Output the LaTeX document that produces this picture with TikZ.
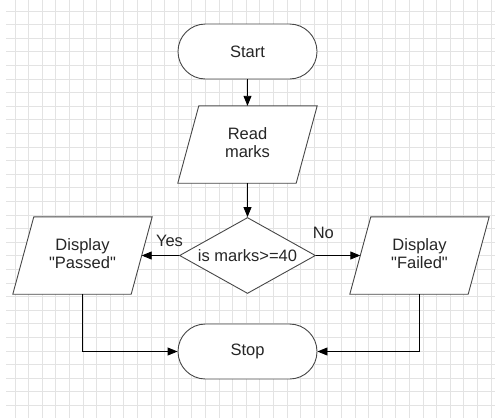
\documentclass[tikz,border=0pt]{standalone}
\usepackage{fontspec}
\setmainfont{Liberation Sans}[Ligatures=TeXOff]
\usetikzlibrary{arrows.meta,shapes.geometric}
\pgfdeclarelayer{gridlayer}
\pgfdeclarelayer{shapelayer}
\pgfsetlayers{gridlayer,shapelayer,main}
\begin{document}
\begin{tikzpicture}[x=1pt,y=-1pt,
  every node/.style={font=\fontsize{16.5}{17.6}\selectfont, text=black!85},
  shapeline/.style={draw=black!72, line width=0.9pt, fill=white},
  term/.style={shapeline, rectangle, rounded corners=27.5pt, minimum width=139pt, minimum height=55pt, inner sep=0pt},
  decision/.style={shapeline, diamond, aspect=1.79, minimum width=136pt, minimum height=76pt, inner sep=0pt},
  paratext/.style={rectangle, minimum width=118pt, minimum height=77pt, inner sep=0pt, align=center, text height=28pt, text depth=2.5pt},
  flow/.style={draw=black, line width=0.9pt, -{Triangle[length=10pt,width=8pt]}},
  lbl/.style={inner sep=0pt, anchor=base},
  gridline/.style={draw=black!11, line width=0.8pt}
]
\useasboundingbox (0,0) rectangle (495,418);
\begin{pgfonlayer}{gridlayer}
  \fill[white] (0,0) rectangle (495,418);
  \foreach \k in {0,...,35} \draw[gridline] ({15+13.6*\k},0) -- ({15+13.6*\k},418);
  \foreach \k in {0,...,29} \draw[gridline] (6,{11+13.6*\k}) -- (495,{11+13.6*\k});
\end{pgfonlayer}

\node[term] (start) at (247.5,51.5) {Start};
\node[paratext] (read) at (247.5,144.5) {Read\\marks};
\node[decision] (dec) at (247.5,255.5) {is marks>=40};
\node[paratext] (pass) at (82.5,255.5) {Display\\"Passed"};
\node[paratext] (fail) at (419.5,255.5) {Display\\"Failed"};
\node[term] (stop) at (247.5,351.5) {Stop};

\begin{pgfonlayer}{shapelayer}
  \foreach \n in {read,pass,fail}
    \draw[shapeline] ([xshift=10.5pt]\n.north west) -- ([xshift=10.5pt]\n.north east)
      -- ([xshift=-10.5pt]\n.south east) -- ([xshift=-10.5pt]\n.south west) -- cycle;
\end{pgfonlayer}

\draw[flow] (start.south) -- (read.north);
\draw[flow] (read.south) -- (dec.north);
\draw[flow] (dec.west) -- (pass.east);
\draw[flow] (dec.east) -- (fail.west);
\draw[flow] (pass.south) |- (stop.west);
\draw[flow] (fail.south) |- (stop.east);

\node[lbl] (yes) at (169.5,246.7) {Yes};
\node[lbl] (no) at (323.3,238.3) {No};
\end{tikzpicture}
\end{document}
